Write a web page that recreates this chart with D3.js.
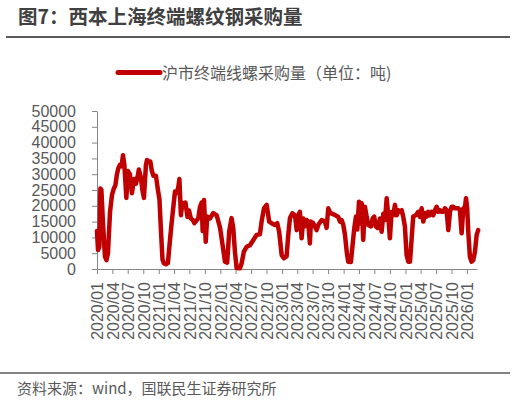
<!DOCTYPE html>
<html lang="zh">
<head>
<meta charset="UTF-8">
<title>西本上海终端螺纹钢采购量</title>
<style>
    body { margin: 0; background: #fff; }
    svg { display: block; }
    .axis path, .axis line { stroke: #868686; }
    .axis text { fill: #595959; font-family: "Liberation Sans", Arial, sans-serif; font-size: 16px; }
    .cjk { font-family: "Noto Sans CJK SC", sans-serif; }
</style>
</head>
<body>
<svg id="chart"></svg>
<script src="https://cdn.jsdelivr.net/npm/d3@7"></script>
<script>
// weekly purchase volume (tons)
var dates = [
    "2020-01-01","2020-01-07","2020-01-15","2020-01-21","2020-01-27","2020-02-05","2020-02-17","2020-02-26",
    "2020-03-06","2020-03-18","2020-03-30","2020-04-10","2020-04-19","2020-04-28","2020-05-07","2020-05-16",
    "2020-05-25","2020-06-03","2020-06-11","2020-06-23","2020-07-02","2020-07-14","2020-07-26","2020-08-07",
    "2020-08-19","2020-08-28","2020-09-05","2020-09-17","2020-09-26","2020-10-05","2020-10-17","2020-10-23",
    "2020-11-04","2020-11-12","2020-11-21","2020-11-30","2020-12-15","2020-12-27","2021-01-05","2021-01-14",
    "2021-01-23","2021-01-31","2021-02-12","2021-02-24","2021-03-08","2021-03-17","2021-03-29","2021-04-07",
    "2021-04-18","2021-04-27","2021-05-03","2021-05-12","2021-05-21","2021-05-30","2021-06-08","2021-06-20",
    "2021-06-29","2021-07-10","2021-07-22","2021-07-31","2021-08-23","2021-09-02","2021-09-12","2021-09-18",
    "2021-09-26","2021-10-06","2021-10-15","2021-10-31","2021-11-20","2021-12-10","2021-12-30","2022-01-14",
    "2022-01-28","2022-02-10","2022-02-22","2022-03-08","2022-03-18","2022-03-28","2022-04-07","2022-04-27",
    "2022-05-07","2022-05-20","2022-06-05","2022-06-25","2022-07-15","2022-08-04","2022-08-23","2022-09-02",
    "2022-09-16","2022-10-02","2022-10-17","2022-10-31","2022-11-20","2022-12-04","2022-12-15","2022-12-30",
    "2023-01-12","2023-01-28","2023-02-07","2023-02-17","2023-03-03","2023-03-19","2023-03-29","2023-04-07",
    "2023-04-17","2023-04-27","2023-05-07","2023-05-17","2023-05-27","2023-06-05","2023-06-15","2023-06-21",
    "2023-07-05","2023-07-25","2023-08-04","2023-08-24","2023-09-12","2023-09-22","2023-10-02","2023-10-12",
    "2023-10-22","2023-11-10","2023-11-30","2023-12-10","2023-12-20","2023-12-30","2024-01-09","2024-01-19",
    "2024-01-28","2024-02-13","2024-02-23","2024-03-04","2024-03-14","2024-03-22","2024-04-01","2024-04-08",
    "2024-04-17","2024-04-26","2024-05-06","2024-05-16","2024-05-26","2024-06-11","2024-06-21","2024-06-30",
    "2024-07-09","2024-07-20","2024-08-03","2024-08-13","2024-08-23","2024-09-02","2024-09-12","2024-09-21",
    "2024-10-01","2024-10-11","2024-10-21","2024-10-31","2024-11-10","2024-11-19","2024-11-29","2024-12-10",
    "2024-12-19","2024-12-29","2025-01-08","2025-01-18","2025-01-28","2025-02-07","2025-02-16","2025-03-04",
    "2025-03-18","2025-03-28","2025-04-07","2025-04-17","2025-04-27","2025-05-07","2025-05-16","2025-05-26",
    "2025-06-05","2025-06-15","2025-06-25","2025-07-05","2025-07-14","2025-07-24","2025-08-03","2025-08-13",
    "2025-08-23","2025-09-02","2025-09-12","2025-09-22","2025-10-02","2025-10-11","2025-10-21","2025-11-10",
    "2025-11-20","2025-11-30","2025-12-10","2025-12-20","2025-12-26","2026-01-02","2026-01-08","2026-01-18",
    "2026-01-28","2026-02-07","2026-02-17","2026-02-27","2026-03-08"
];
var values = [
    12000,6000,7000,25500,25000,15000,4000,2800,
    5000,18000,23500,25500,26500,30000,32000,33000,
    32500,36000,33000,22500,31000,30000,24000,28500,
    27000,29000,31500,29000,25000,22500,33000,34500,
    34000,34000,31000,29500,29500,25000,22000,12000,
    3000,1800,1500,1900,9000,14000,20000,24500,
    24000,26000,28500,17000,21000,20000,21000,16500,
    18500,16000,15500,14500,16000,19700,21000,12000,
    21800,8600,16600,16000,17700,17000,13000,7600,
    2300,2000,11800,16100,13000,5500,300,200,
    1900,5500,7000,7500,9200,10800,11000,15000,
    19200,20300,15000,14500,13900,14500,11800,4400,
    3400,4000,10800,16100,17600,17000,12300,17000,
    18100,9700,16000,13500,15500,15000,8100,15000,
    14500,12300,14000,15500,15000,13000,19200,18000,
    17500,17100,16500,15000,15500,13900,10800,5500,
    2300,2200,7600,12900,16600,12500,21300,14500,
    20800,9200,19700,16600,13900,13500,16000,16600,
    13500,13000,16000,11800,17500,15500,22400,17000,
    9700,18000,17000,20300,17000,18600,18100,18600,
    16500,13400,4400,2300,2300,9700,16600,17000,
    18100,16500,19200,15000,17700,16600,18100,17000,
    18100,17000,18600,19700,18100,18600,18100,18100,
    19200,18600,12300,18100,19700,19700,19200,19200,
    18600,11300,19200,19700,22400,19200,12000,3900,
    2300,2800,5500,10800,12300
];
var yTicks = [0, 5000, 10000, 15000, 20000, 25000, 30000, 35000, 40000, 45000, 50000];
var xStart = "2020-01-01", xEnd = "2026-03-01";
var titleText = "图7：西本上海终端螺纹钢采购量";
var seriesName = "沪市终端线螺采购量（单位：吨)";
var sourceText = "资料来源：wind，国联民生证券研究所";

var width = 516, height = 401;
var parse = d3.timeParse("%Y-%m-%d");
var data = dates.map(function(d, i){ return { date: parse(d), value: values[i] }; });

var svg = d3.select("#chart").attr("width", width).attr("height", height);
svg.append("rect").attr("width", width).attr("height", height).attr("fill", "#fff");

// title + rule
svg.append("text").attr("class", "cjk")
    .attr("x", 18).attr("y", 23.5)
    .attr("font-size", 19.5).attr("font-weight", "bold").attr("fill", "#404040")
    .text(titleText);
svg.append("line").attr("x1", 6).attr("x2", 510).attr("y1", 37).attr("y2", 37)
    .attr("stroke", "#595959").attr("stroke-width", 2);

// legend
svg.append("line").attr("x1", 118).attr("x2", 160).attr("y1", 72.5).attr("y2", 72.5)
    .attr("stroke", "#C00000").attr("stroke-width", 5).attr("stroke-linecap", "round");
svg.append("text").attr("class", "cjk")
    .attr("x", 162).attr("y", 78.5)
    .attr("font-size", 16).attr("fill", "#595959")
    .text(seriesName);

var x = d3.scaleTime().domain([parse(xStart), parse(xEnd)]).range([97, 477]);
var y = d3.scaleLinear().domain([0, 50000]).range([269, 111]);

var yAxis = svg.append("g").attr("class", "axis")
    .attr("transform", "translate(97,0)")
    .call(d3.axisLeft(y).tickValues(yTicks).tickSize(5).tickSizeOuter(0).tickPadding(16).tickFormat(d3.format("d")));

var xAxis = svg.append("g").attr("class", "axis")
    .attr("transform", "translate(0,269)")
    .call(d3.axisBottom(x).ticks(d3.timeMonth.every(3)).tickSize(5).tickSizeOuter(0).tickFormat(d3.timeFormat("%Y/%m")));
xAxis.selectAll(".tick text")
    .attr("text-anchor", "end")
    .attr("transform", "translate(0,13) rotate(-90)")
    .attr("x", 0).attr("y", 0).attr("dy", "0.36em");

var line = d3.line()
    .x(function(d){ return x(d.date); })
    .y(function(d){ return y(d.value); });

svg.append("path").datum(data)
    .attr("d", line)
    .attr("fill", "none")
    .attr("stroke", "#C00000")
    .attr("stroke-width", 4.5)
    .attr("stroke-linejoin", "round")
    .attr("stroke-linecap", "round");

// source
svg.append("line").attr("x1", 0).attr("x2", 510).attr("y1", 373).attr("y2", 373)
    .attr("stroke", "#595959").attr("stroke-width", 1.5);
svg.append("text").attr("class", "cjk")
    .attr("x", 17).attr("y", 394)
    .attr("font-size", 15).attr("fill", "#595959")
    .text(sourceText);
</script>
</body>
</html>
